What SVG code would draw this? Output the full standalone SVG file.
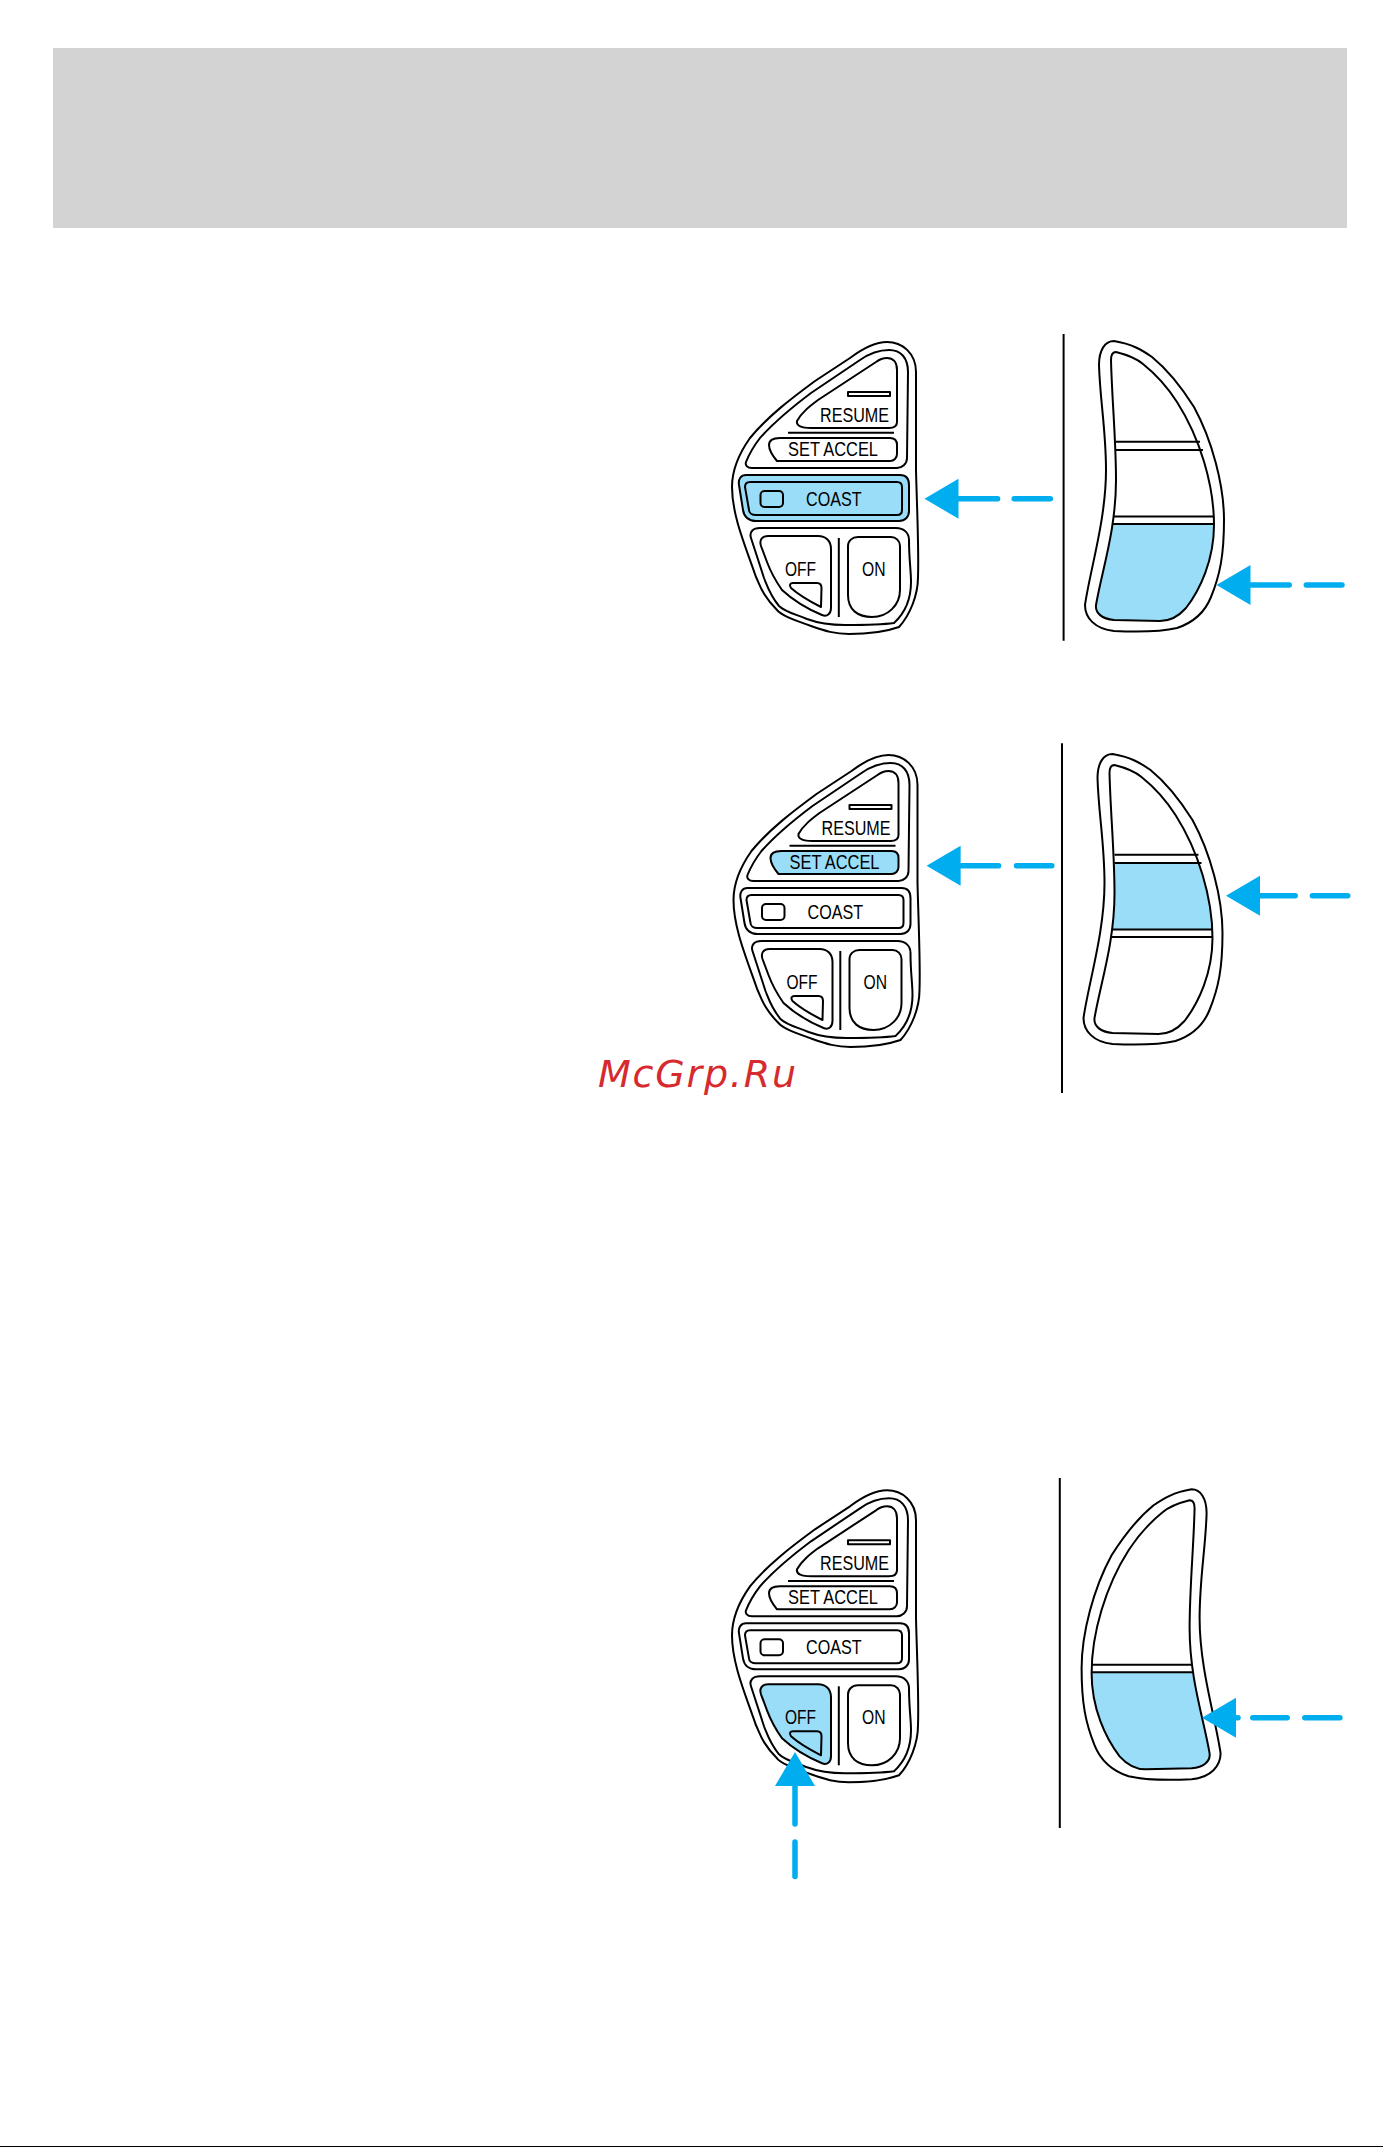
<svg xmlns="http://www.w3.org/2000/svg" xmlns:xlink="http://www.w3.org/1999/xlink" width="1383" height="2147" viewBox="0 0 1383 2147">
<style>
.o{fill:none;stroke:#000;stroke-width:2;stroke-linejoin:round}
.h{fill:#99DDF9;stroke:none}
.t{font-family:"Liberation Sans",Arial,sans-serif;fill:#000;font-size:19.5px}
.vl{stroke:#000;stroke-width:2;fill:none}
.c{fill:none;stroke:#00ADEF;stroke-width:5.5;stroke-linecap:round;marker-end:url(#head)}
</style>
<defs>
<marker id="head" markerUnits="userSpaceOnUse" markerWidth="34" markerHeight="40" viewBox="0 0 34 40" refX="0" refY="20" orient="auto" overflow="visible"><path d="M0 0L34 20L0 40Z" fill="#00ADEF"/></marker>
<path id="setBtn" d="M70 118L180 118C185 118 187 121 187 125L187 134C187 138 184 141 180 141L67 141C62 135 59 130 59 125C59 120 63 118 70 118Z"/>
<path id="coastOut" d="M36 155L190 155C196 155 199 159 199 165L199 191C199 197 195 201 189 201L46 201C39 201 34 197 33 190L29 165C28 159 31 155 36 155Z"/>
<path id="offBtn" d="M58 216L108 216C116 216 121 221 121 229L121 288C121 294 117 297 112 295C100 290 85 282 72 270C65 260 60 250 57 242L51 226C49 220 52 216 58 216Z"/>
<g id="remote" class="o">
<path d="M177 22C192 22 206 33 206 52L206 150C207 190 209 230 208 257C208 275 200 295 189 307C175 312 155 314 139 314C125 314 115 311 101 306C85 300 72 296 67 290C52 275 50 265 46 257C35 225 22 195 22 167C22 150 28 135 40 118C58 96 82 78 105 61L140 38C152 29 165 22 177 22Z"/>
<path d="M179 30C191 30 198 38 198 52L197 138C197 144 192 148 187 148L42 148C37 148 35 145 36 142C40 132 43 127 50 118C66 100 85 85 101 73L150 40C160 33 170 30 179 30Z"/>
<path d="M177 38C183 38 187 42 187 50L187 102C187 106 184 108 179 108L101 108C92 108 86 106 87 101C92 92 100 86 108 80L166 42C170 39 173 38 177 38Z"/>
<rect x="138" y="72" width="42" height="4"/>
<path d="M78 112.700H184"/>
<use xlink:href="#setBtn" href="#setBtn"/>
<use xlink:href="#coastOut" href="#coastOut"/>
<path d="M40 162L187 162C190 162 192 164 192 167L192 190C192 193 190 195 187 195L46 195C42 195 39 193 39 190L35 167C35 164 37 162 40 162Z"/>
<rect x="50.500" y="171" width="22.500" height="16" rx="4"/>
<path d="M50 208L186 208C194 208 199 213 199 220C199 240 201 250 201 262C201 278 196 292 184 303C170 305 150 305 135 305C120 305 105 302 97 299C85 294 75 292 69 286C60 275 58 268 54 258L41 218C39 212 43 208 50 208Z"/>
<use xlink:href="#offBtn" href="#offBtn"/>
<path d="M83 263L107 263C110 263 111.500 265 111.500 268L111 287C105 284 90 276 81 268C79 265 80 263 83 263Z"/>
<path d="M128.800 218V297"/>
<path d="M148 217L181 217C186 217 190 221 190 226L190 270C190 285 178 297 162 297C148 297 138 290 138 275L138 226C138 221 142 217 148 217Z"/>
</g>
<path id="gripOut" d="M404 21C422 24 432 30 442 37C458 50 472 68 484 87C502 120 514 165 514 200C514 235 510 255 501 277C495 292 485 302 467 308C450 312 425 312 404 311C385 309 375 298 375 285C380 250 396 200 396 150C396 110 390 80 389 45C389 30 395 21 404 21Z"/>
<path id="gripIn" d="M406 32C418 35 426 38 433 44C448 56 458 68 467 82C490 118 504 165 504 205C504 240 490 270 476 288C468 297 460 301 450 301L404 300C392 299 385 293 386 285C392 250 406 210 406 160C406 120 402 80 401 40C401 34 403 32 406 32Z"/>
<clipPath id="gripClip"><use xlink:href="#gripIn" href="#gripIn"/></clipPath>
</defs>
<rect id="header" x="53" y="48" width="1294" height="180" fill="#D3D3D3"/>
<rect id="footer-rule" x="0" y="2146" width="1383" height="1" fill="#000"/>

<g id="remote-coast" transform="translate(710 320)">
<use xlink:href="#coastOut" href="#coastOut" class="h"/>
<use xlink:href="#remote" href="#remote"/>
<text class="t" x="110" y="102" textLength="69" lengthAdjust="spacingAndGlyphs">RESUME</text>
<text class="t" x="78" y="135.700" textLength="90" lengthAdjust="spacingAndGlyphs">SET ACCEL</text>
<text class="t" x="96" y="186" textLength="55.500" lengthAdjust="spacingAndGlyphs">COAST</text>
<text class="t" x="75" y="255.700" textLength="31" lengthAdjust="spacingAndGlyphs">OFF</text>
<text class="t" x="152" y="255.700" textLength="23.500" lengthAdjust="spacingAndGlyphs">ON</text>
</g>
<g id="grip-coast" transform="translate(710 320)">
<rect x="370" y="204" width="150" height="110" class="h" clip-path="url(#gripClip)"/>
<use xlink:href="#gripOut" href="#gripOut" class="o"/>
<use xlink:href="#gripIn" href="#gripIn" class="o"/>
<path class="o" d="M406 121.700H490M406 130H493M403 196.500H504M403 204H504"/>
</g>
<path class="vl" id="divider-1" d="M1063.600 334V640.700"/>

<g id="remote-set" transform="translate(711.500 733)">
<use xlink:href="#setBtn" href="#setBtn" class="h"/>
<use xlink:href="#remote" href="#remote"/>
<text class="t" x="110" y="102" textLength="69" lengthAdjust="spacingAndGlyphs">RESUME</text>
<text class="t" x="78" y="135.700" textLength="90" lengthAdjust="spacingAndGlyphs">SET ACCEL</text>
<text class="t" x="96" y="186" textLength="55.500" lengthAdjust="spacingAndGlyphs">COAST</text>
<text class="t" x="75" y="255.700" textLength="31" lengthAdjust="spacingAndGlyphs">OFF</text>
<text class="t" x="152" y="255.700" textLength="23.500" lengthAdjust="spacingAndGlyphs">ON</text>
</g>
<g id="grip-set" transform="translate(708.500 733)">
<rect x="370" y="130" width="150" height="66.500" class="h" clip-path="url(#gripClip)"/>
<use xlink:href="#gripOut" href="#gripOut" class="o"/>
<use xlink:href="#gripIn" href="#gripIn" class="o"/>
<path class="o" d="M406 121.700H490M406 130H493M403 196.500H504M403 204H504"/>
</g>
<path class="vl" id="divider-2" d="M1062 743.300V1093"/>

<g id="remote-off" transform="translate(710 1468.300)">
<use xlink:href="#offBtn" href="#offBtn" class="h"/>
<use xlink:href="#remote" href="#remote"/>
<text class="t" x="110" y="102" textLength="69" lengthAdjust="spacingAndGlyphs">RESUME</text>
<text class="t" x="78" y="135.700" textLength="90" lengthAdjust="spacingAndGlyphs">SET ACCEL</text>
<text class="t" x="96" y="186" textLength="55.500" lengthAdjust="spacingAndGlyphs">COAST</text>
<text class="t" x="75" y="255.700" textLength="31" lengthAdjust="spacingAndGlyphs">OFF</text>
<text class="t" x="152" y="255.700" textLength="23.500" lengthAdjust="spacingAndGlyphs">ON</text>
</g>
<g id="grip-off" transform="translate(1595.600 1468.300) scale(-1 1)">
<rect x="370" y="204" width="150" height="110" class="h" clip-path="url(#gripClip)"/>
<use xlink:href="#gripOut" href="#gripOut" class="o"/>
<use xlink:href="#gripIn" href="#gripIn" class="o"/>
<path class="o" d="M403 196.500H504M403 204H504"/>
</g>
<path class="vl" id="divider-3" d="M1059.800 1478V1828"/>

<g id="connectors">
<path class="c" d="M1050.300 498.700H1014.200M997.600 498.700H958.500"/>
<path class="c" d="M1342 585H1306.300M1289.200 585H1250.500"/>
<path class="c" d="M1051.800 865.700H1016.500M998.600 865.700H960.600"/>
<path class="c" d="M1347.700 895.700H1312.400M1295.200 895.700H1260"/>
<path class="c" d="M1339.900 1717.700H1304.800M1287.200 1717.700H1252.800M1238 1717.700H1236"/>
<path class="c" d="M795 1876.600V1842M795 1824V1786"/>
</g>
<text id="watermark" x="598" y="1087" font-family="'DejaVu Sans',sans-serif" font-style="oblique" font-size="38" fill="#D62A2E" textLength="198">McGrp.Ru</text>
</svg>
